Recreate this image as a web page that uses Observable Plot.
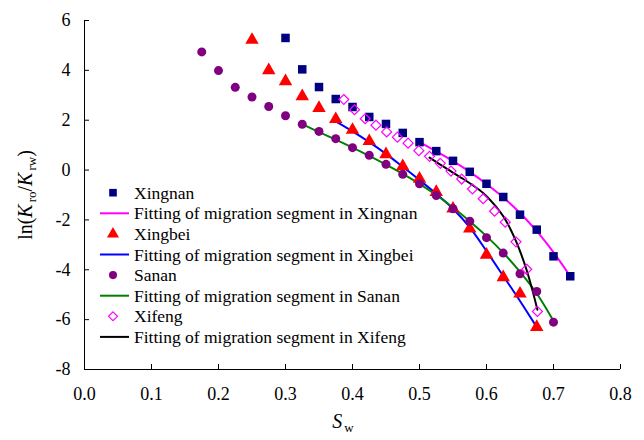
<!DOCTYPE html>
<html><head><meta charset="utf-8">
<script src="https://cdn.jsdelivr.net/npm/d3@7"></script>
<script src="https://cdn.jsdelivr.net/npm/@observablehq/plot@0.6"></script>
<style>
body{margin:0;background:#fff}
svg, svg text, svg tspan { font-family: 'Liberation Serif', 'DejaVu Serif', serif !important; }
</style>
</head><body><div id="chart"></div>
<script>
const xTicks = [0, 0.1, 0.2, 0.3, 0.4, 0.5, 0.6, 0.7, 0.8];
const yTicks = [-8, -6, -4, -2, 0, 2, 4, 6];

const xingnanSw = [0.300,0.325,0.350,0.375,0.400,0.425,0.450,0.475,0.500,0.525,0.550,0.575,0.600,0.625,0.650,0.675,0.700,0.725];
const xingnanLn = [5.30,4.04,3.33,2.85,2.53,2.13,1.85,1.49,1.12,0.76,0.37,-0.07,-0.55,-1.08,-1.79,-2.39,-3.46,-4.26];
const xingnanFitSw = [0.500,0.525,0.550,0.575,0.600,0.625,0.650,0.675,0.700,0.725];
const xingnanFitLn = [1.12,0.75,0.36,-0.07,-0.56,-1.10,-1.72,-2.45,-3.30,-4.26];

const xingbeiSw = [0.250,0.275,0.300,0.325,0.350,0.375,0.400,0.425,0.450,0.475,0.500,0.525,0.550,0.575,0.600,0.625,0.650,0.675];
const xingbeiLn = [5.22,4.00,3.56,2.96,2.49,2.04,1.61,1.16,0.63,0.15,-0.35,-0.88,-1.55,-2.35,-3.40,-4.30,-4.96,-6.30];
const xingbeiFitSw = [0.375,0.400,0.425,0.450,0.475,0.500,0.525,0.550,0.575,0.600,0.625,0.650,0.675];
const xingbeiFitLn = [1.95,1.55,1.12,0.65,0.13,-0.40,-0.95,-1.55,-2.30,-3.25,-4.25,-5.25,-6.30];

const sananSw = [0.175,0.200,0.225,0.250,0.275,0.300,0.325,0.350,0.375,0.400,0.425,0.450,0.475,0.500,0.525,0.550,0.575,0.600,0.625,0.650,0.675,0.700];
const sananLn = [4.74,3.99,3.32,2.93,2.55,2.18,1.84,1.55,1.26,0.90,0.59,0.23,-0.17,-0.55,-1.02,-1.55,-2.05,-2.71,-3.33,-4.16,-4.87,-6.10];
const sananFitSw = [0.325,0.350,0.375,0.400,0.425,0.450,0.475,0.500,0.525,0.550,0.575,0.600,0.625,0.650,0.675,0.700];
const sananFitLn = [1.84,1.52,1.22,0.90,0.57,0.22,-0.15,-0.55,-1.00,-1.50,-2.05,-2.65,-3.32,-4.08,-4.95,-6.05];

const xifengSw = [0.387,0.403,0.419,0.435,0.451,0.467,0.483,0.499,0.515,0.531,0.547,0.563,0.579,0.595,0.612,0.628,0.644,0.660,0.676];
const xifengLn = [2.83,2.42,2.06,1.80,1.53,1.32,1.08,0.78,0.55,0.27,-0.04,-0.36,-0.76,-1.15,-1.65,-2.09,-2.88,-3.98,-5.67];
const xifengFitSw = [0.515,0.531,0.547,0.563,0.579,0.595,0.612,0.628,0.644,0.660,0.676];
const xifengFitLn = [0.50,0.22,-0.05,-0.32,-0.60,-0.92,-1.40,-1.98,-2.85,-4.02,-5.60];

const legendLabels = ["Xingnan","Fitting of migration segment in Xingnan","Xingbei","Fitting of migration segment in Xingbei","Sanan","Fitting of migration segment in Sanan","Xifeng","Fitting of migration segment in Xifeng"];

const rows = (sw, ln) => sw.map((s, i) => ({sw: s, ln: ln[i]}));
const FONT = "'Liberation Serif', 'DejaVu Serif', serif";

const markers = [
  {data: rows(xingnanSw, xingnanLn), symbol: "square", fill: "#000080", stroke: "none", r: 4.8},
  {data: rows(xingbeiSw, xingbeiLn), symbol: "triangle", fill: "#ff0000", stroke: "none", r: 5.0},
  {data: rows(sananSw, sananLn), symbol: "circle", fill: "#800080", stroke: "none", r: 4.5},
  {data: rows(xifengSw, xifengLn), symbol: "diamond2", fill: "none", stroke: "#ff00ff", r: 4.5}
];
const fits = [
  {data: rows(xingnanFitSw, xingnanFitLn), stroke: "#ff00ff"},
  {data: rows(xingbeiFitSw, xingbeiFitLn), stroke: "#0000ff"},
  {data: rows(sananFitSw, sananFitLn), stroke: "#008000"},
  {data: rows(xifengFitSw, xifengFitLn), stroke: "#000000"}
];

const plot = Plot.plot({
  width: 644, height: 440,
  marginLeft: 84, marginRight: 24, marginTop: 20, marginBottom: 71,
  x: {domain: [0, 0.8]},
  y: {domain: [-8, 6]},
  style: {fontFamily: FONT, fontSize: "18px", color: "#000", background: "#fff", overflow: "visible"},
  marks: [
    Plot.axisX(xTicks, {tickSize: 0, tickPadding: 18, tickFormat: d3.format(".1f"), label: null, fontSize: 18}),
    Plot.axisY(yTicks, {tickSize: 0, tickPadding: 14, tickFormat: d => String(d), label: null, fontSize: 18}),
    Plot.ruleY(yTicks, {x1: 0, x2: 0.0075, stroke: "#000", strokeWidth: 1}),
    Plot.ruleX(xTicks, {y1: -8, y2: -7.8, stroke: "#000", strokeWidth: 1}),
    Plot.ruleX([0], {y1: -8, y2: 6, stroke: "#000", strokeWidth: 1}),
    Plot.ruleY([-8], {x1: 0, x2: 0.8, stroke: "#000", strokeWidth: 1}),
    ...fits.map(f => Plot.line(f.data, {x: "sw", y: "ln", stroke: f.stroke, strokeWidth: 2, curve: "catmull-rom"})),
    ...markers.map(m => Plot.dot(m.data, {x: "sw", y: "ln", symbol: () => m.symbol, fill: m.fill, stroke: m.stroke, strokeWidth: 1.2, r: m.r}))
  ]
});

const svg = d3.select(plot);
// y axis label
const yl = svg.append("text")
  .attr("transform", "translate(32,195) rotate(-90)")
  .attr("text-anchor", "middle")
  .attr("font-size", 20).attr("fill", "#000");
yl.append("tspan").text("ln(");
yl.append("tspan").attr("font-style", "italic").text("K");
yl.append("tspan").attr("font-size", 13).attr("dy", 4).attr("dx", 2).text("ro");
yl.append("tspan").attr("dy", -4).text("/");
yl.append("tspan").attr("font-style", "italic").text("K");
yl.append("tspan").attr("font-size", 13).attr("dy", 4).attr("dx", 2).text("rw");
yl.append("tspan").attr("dy", -4).text(")");
// x axis label
const xl = svg.append("text")
  .attr("x", 343).attr("y", 428)
  .attr("text-anchor", "middle")
  .attr("font-size", 20).attr("fill", "#000");
xl.append("tspan").attr("font-style", "italic").text("S");
xl.append("tspan").attr("font-size", 13).attr("dy", 4).attr("dx", 2).text("w");

// legend
const lg = svg.append("g").attr("font-size", 17.5).attr("text-anchor", "start");
legendLabels.forEach((label, i) => {
  const cy = 192.7 + i * 20.6;
  if (i % 2 === 0) {
    const m = markers[i / 2];
    const sym = {square: d3.symbolSquare, triangle: d3.symbolTriangle, circle: d3.symbolCircle, diamond2: d3.symbolDiamond2}[m.symbol];
    lg.append("path")
      .attr("d", d3.symbol(sym, Math.PI * m.r * m.r * 0.8)())
      .attr("transform", `translate(113,${cy})`)
      .attr("fill", m.fill).attr("stroke", m.stroke).attr("stroke-width", 1.2);
  } else {
    lg.append("line").attr("x1", 100).attr("x2", 129).attr("y1", cy).attr("y2", cy)
      .attr("stroke", fits[(i - 1) / 2].stroke).attr("stroke-width", 2);
  }
  lg.append("text").attr("x", 134).attr("y", cy + 6).attr("text-anchor", "start").attr("fill", "#000").text(label);
});

document.getElementById("chart").appendChild(plot);
</script>
</body></html>
